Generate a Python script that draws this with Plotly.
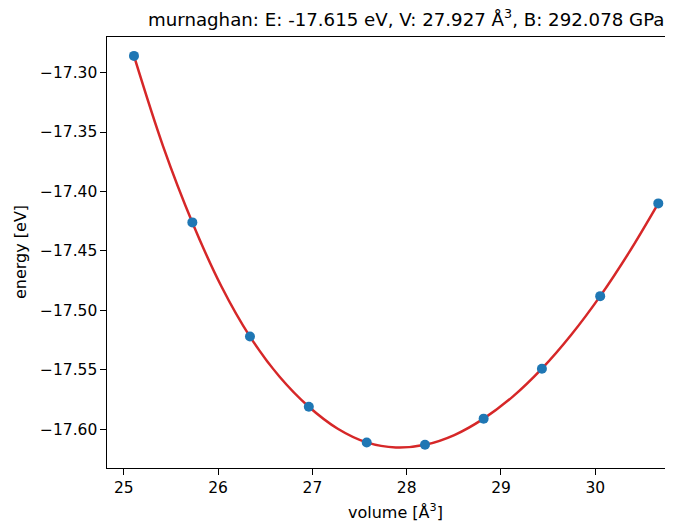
import plotly.graph_objects as go

# Data
volumes = [25.108, 25.727, 26.338, 26.962, 27.576, 28.194, 28.816, 29.434, 30.052, 30.668]
energies = [-17.286, -17.426, -17.522, -17.581, -17.611, -17.613, -17.591, -17.549, -17.488, -17.410]

# Fitted curve samples (data volumes plus midpoints)
fit_volumes = [25.108, 25.417, 25.727, 26.033, 26.338, 26.650, 26.962, 27.269, 27.576, 27.885,
               28.194, 28.505, 28.816, 29.125, 29.434, 29.743, 30.052, 30.360, 30.668]
fit_energies = [-17.286, -17.362, -17.426, -17.4795, -17.522, -17.5556, -17.581, -17.5995, -17.611, -17.6153,
                -17.613, -17.6048, -17.591, -17.5725, -17.549, -17.5207, -17.488, -17.451, -17.410]

ytick_vals = [-17.30, -17.35, -17.40, -17.45, -17.50, -17.55, -17.60]
ytick_text = ["\u221217.30", "\u221217.35", "\u221217.40", "\u221217.45", "\u221217.50", "\u221217.55", "\u221217.60"]
xtick_vals = [25, 26, 27, 28, 29, 30]

title_text = "murnaghan: E: -17.615 eV, V: 27.927 \u00c5<sup>3</sup>, B: 292.078 GPa"

FONT = "DejaVu Sans"

# The page body has an 8px default margin; figure is sized/offset to compensate.
OFF = 8
W, H = 673 - OFF, 523 - OFF
L, T, R, B = 107 - OFF, 37 - OFF, 0, 55
PW, PH = W - L - R, H - T - B


def px_x(page_x):
    return (page_x - OFF - L) / PW


def px_y(page_y):
    return 1 - (page_y - OFF - T) / PH


fig = go.Figure()
fig.add_trace(go.Scatter(x=fit_volumes, y=fit_energies, mode="lines",
                         line=dict(color="#d62728", width=2.5, shape="spline", smoothing=1.0),
                         showlegend=False, hoverinfo="skip"))
fig.add_trace(go.Scatter(x=volumes, y=energies, mode="markers",
                         marker=dict(color="#1f77b4", size=10, line=dict(width=0)),
                         showlegend=False))

fig.update_layout(
    width=W, height=H,
    margin=dict(l=L, r=R, t=T, b=B, pad=0, autoexpand=False),
    paper_bgcolor="white", plot_bgcolor="white",
    font=dict(family=FONT, size=16, color="black"),
    xaxis=dict(range=[24.822, 30.824], tickvals=xtick_vals, ticks="outside", ticklen=5.5,
               tickwidth=1.2, tickcolor="black", showgrid=False, zeroline=False,
               showline=True, linecolor="black", linewidth=1.2, mirror=True, automargin=False,
               tickfont=dict(family=FONT, size=15.5, color="black")),
    yaxis=dict(range=[-17.6325, -17.2701], tickvals=ytick_vals, ticktext=ytick_text,
               ticks="outside", ticklen=5.5, tickwidth=1.2, tickcolor="black",
               showgrid=False, zeroline=False, showline=True, linecolor="black",
               linewidth=1.2, mirror=False, automargin=False,
               tickfont=dict(family=FONT, size=15.5, color="black")),
    annotations=[
        dict(text=title_text, x=px_x(406.5), y=px_y(18), xref="paper", yref="paper",
             xanchor="center", yanchor="middle", showarrow=False,
             font=dict(family=FONT, size=18.2, color="black")),
        dict(text="volume [\u00c5<sup>3</sup>]", x=px_x(395.5), y=px_y(511),
             xref="paper", yref="paper", xanchor="center", yanchor="middle", showarrow=False,
             font=dict(family=FONT, size=16, color="black")),
        dict(text="energy [eV]", x=px_x(20), y=px_y(252), xref="paper", yref="paper",
             xanchor="center", yanchor="middle", textangle=-90, showarrow=False,
             font=dict(family=FONT, size=16, color="black")),
    ],
)

fig.write_html("out.html")
